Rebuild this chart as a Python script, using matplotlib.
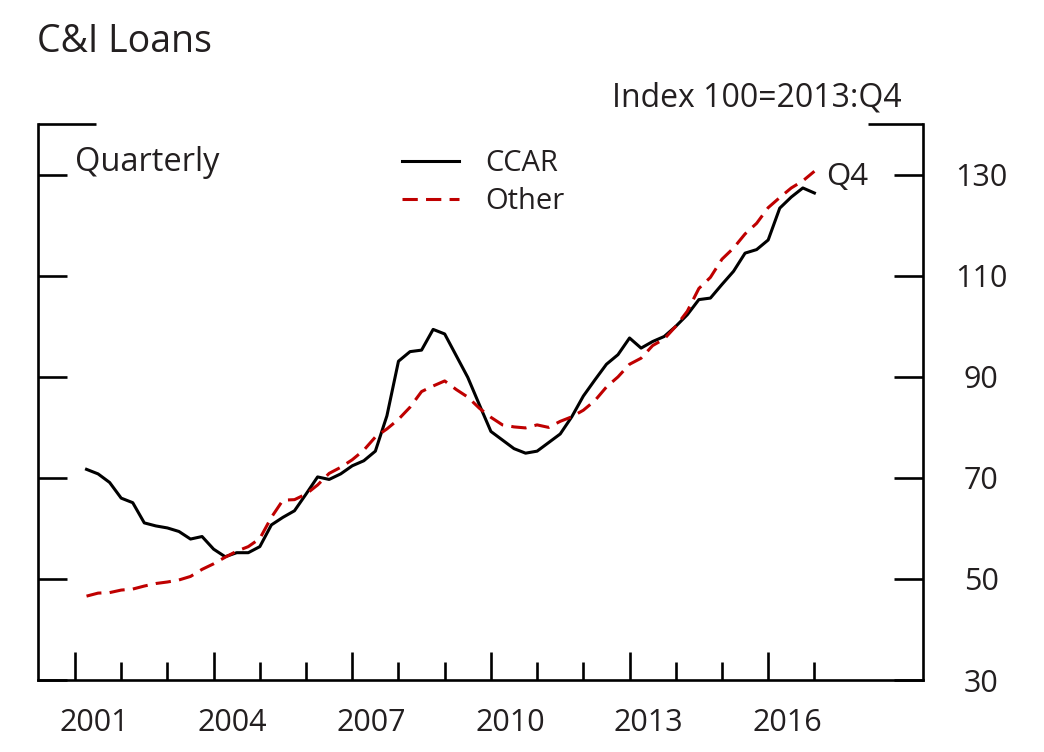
import numpy as np
import matplotlib
matplotlib.use("Agg")
import matplotlib.pyplot as plt
import matplotlib.transforms as mtransforms

plt.rcParams['font.family'] = ['Open Sans', 'DejaVu Sans']

# quarterly data, 2001:Q1 - 2016:Q4, index 100 = 2013:Q4
years = np.repeat(np.arange(2001, 2017), 4)
quarters = np.tile(np.arange(1, 5), 16)

ccar = [71.7, 70.8, 69.1, 66.0,
        65.1, 61.1, 60.5, 60.1,
        59.4, 57.9, 58.4, 55.9,
        54.4, 55.2, 55.2, 56.4,
        60.7, 62.2, 63.5, 66.8,
        70.2, 69.7, 70.8, 72.4,
        73.4, 75.3, 82.3, 93.1,
        95.0, 95.3, 99.4, 98.5,
        94.2, 89.9, 84.5, 79.2,
        77.5, 75.8, 74.9, 75.3,
        77.0, 78.7, 82.1, 86.2,
        89.4, 92.5, 94.4, 97.7,
        95.7, 97.0, 98.0, 100.0,
        102.3, 105.3, 105.6, 108.3,
        110.9, 114.5, 115.2, 117.1,
        123.4, 125.6, 127.4, 126.4]

other = [46.6, 47.2, 47.3, 47.8,
         48.0, 48.6, 49.1, 49.4,
         49.8, 50.5, 51.9, 53.0,
         54.3, 55.5, 56.4, 58.0,
         62.2, 65.6, 65.7, 66.8,
         68.6, 70.9, 72.1, 73.6,
         75.5, 78.1, 79.7, 81.6,
         84.0, 87.1, 88.2, 89.2,
         87.5, 86.0, 83.8, 82.0,
         80.5, 80.1, 79.9, 80.5,
         80.0, 81.2, 82.1, 83.4,
         85.3, 88.0, 90.0, 92.5,
         93.7, 96.2, 97.5, 100.0,
         103.0, 107.5, 109.7, 113.3,
         115.5, 118.3, 120.4, 123.5,
         125.5, 127.4, 128.8, 130.7]

major_years = list(range(2001, 2017, 3))
minor_years = [y for y in range(2002, 2018) if y not in major_years]
yticks = [30, 50, 70, 90, 110, 130]

# quarter-end positions
t = years + quarters / 4.0

W, H = 1044, 752
txt = '#231F20'
fig = plt.figure(figsize=(W / 100, H / 100), dpi=100)
ax = fig.add_axes([38 / W, 1 - 680 / H, (923 - 38) / W, (680 - 124.3) / H])

ax.plot(t, ccar, color='black', lw=2.2, label='CCAR')
ax.plot(t, other, color='#BF0000', lw=2.2, dashes=(5, 2.7), label='Other')

ax.set_xlim(2000.2, 2019.35)
ax.set_ylim(30, 140)

ax.spines['top'].set_visible(False)
for s in ['left', 'right', 'bottom']:
    ax.spines[s].set_linewidth(1.9)

ax.set_yticks(yticks)
ax.tick_params(axis='y', direction='in', left=True, right=True,
               labelleft=False, labelright=True, length=21, width=1.9,
               pad=42, labelsize=22, labelcolor=txt)
for lab in ax.get_yticklabels():
    lab.set_horizontalalignment('center')

ax.set_xticks(major_years)
ax.set_xticks(minor_years, minor=True)
ax.tick_params(axis='x', which='major', direction='in', length=20.4,
               width=1.9, labelsize=22, pad=20.5, labelcolor=txt)
ax.tick_params(axis='x', which='minor', direction='in', length=12.7,
               width=1.9)
shift = mtransforms.ScaledTranslation(0.19, 0, fig.dpi_scale_trans)
for lab in ax.get_xticklabels():
    lab.set_transform(lab.get_transform() + shift)

# long marks at the top of the frame
yt = ax.get_yaxis_transform()
ax.plot([0, 0.0656], [140, 140], transform=yt, color='black', lw=1.9,
        clip_on=False, solid_capstyle='butt')
ax.plot([1 - 0.0627, 1], [140, 140], transform=yt, color='black', lw=1.9,
        clip_on=False, solid_capstyle='butt')

leg = ax.legend(loc='upper left', bbox_to_anchor=(402 / W, 1 - 149 / H),
                bbox_transform=fig.transFigure, frameon=False, fontsize=21,
                handlelength=1.95, handletextpad=0.9, labelspacing=0.3,
                borderpad=0, borderaxespad=0)
for tx in leg.get_texts():
    tx.set_color(txt)

fig.text(37 / W, 1 - 51.7 / H, 'C&I Loans', fontsize=27, va='baseline',
         color=txt)
fig.text(902 / W, 1 - 106 / H, 'Index 100=2013:Q4', fontsize=23,
         ha='right', va='baseline', color=txt)
fig.text(75 / W, 1 - 171 / H, 'Quarterly', fontsize=23.5, va='baseline',
         color=txt)
fig.text(826 / W, 1 - 185 / H, 'Q4', fontsize=22.5, va='baseline',
         color=txt)

fig.savefig('out.png', dpi=100)
